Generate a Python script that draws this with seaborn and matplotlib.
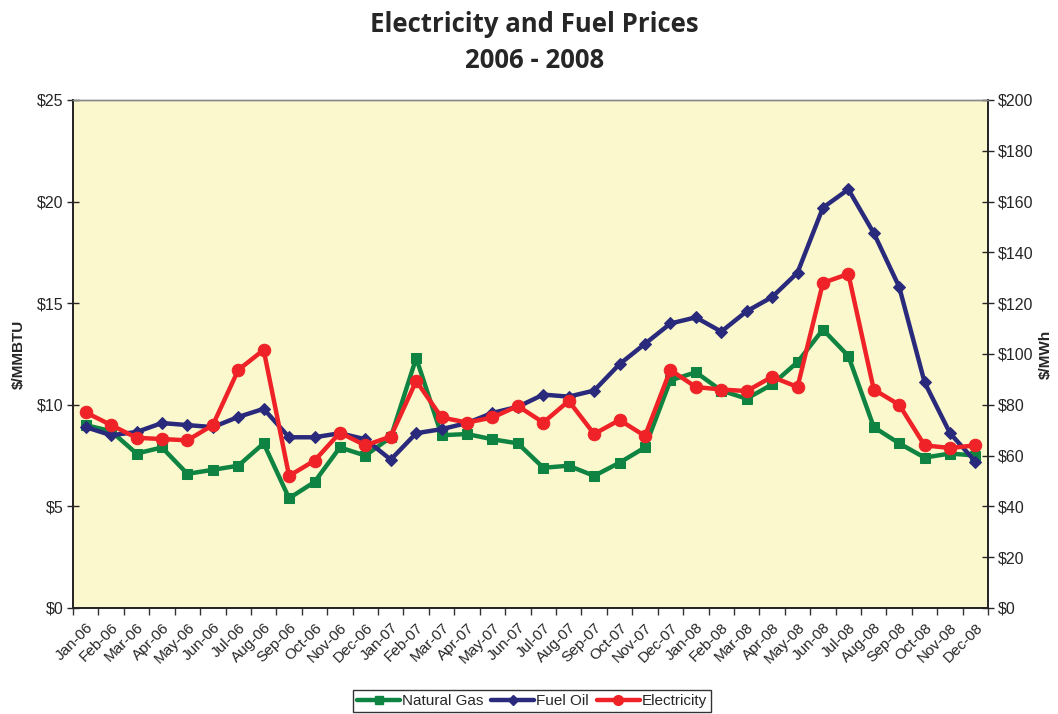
import pandas as pd
import seaborn as sns
import matplotlib.pyplot as plt
from matplotlib.lines import Line2D
from matplotlib.ticker import FixedLocator, FuncFormatter

months = ['Jan-06', 'Feb-06', 'Mar-06', 'Apr-06', 'May-06', 'Jun-06', 'Jul-06', 'Aug-06',
          'Sep-06', 'Oct-06', 'Nov-06', 'Dec-06', 'Jan-07', 'Feb-07', 'Mar-07', 'Apr-07',
          'May-07', 'Jun-07', 'Jul-07', 'Aug-07', 'Sep-07', 'Oct-07', 'Nov-07', 'Dec-07',
          'Jan-08', 'Feb-08', 'Mar-08', 'Apr-08', 'May-08', 'Jun-08', 'Jul-08', 'Aug-08',
          'Sep-08', 'Oct-08', 'Nov-08', 'Dec-08']

# $/MMBTU
natural_gas = [9.0, 8.7, 7.6, 7.9, 6.6, 6.8, 7.0, 8.1, 5.4, 6.2, 7.9, 7.5,
               8.4, 12.3, 8.5, 8.56, 8.3, 8.1, 6.9, 7.0, 6.5, 7.15, 7.9, 11.2,
               11.6, 10.7, 10.3, 11.0, 12.1, 13.7, 12.4, 8.9, 8.1, 7.4, 7.6, 7.5]
fuel_oil = [8.9, 8.5, 8.66, 9.1, 9.0, 8.9, 9.4, 9.8, 8.4, 8.4, 8.6, 8.3,
            7.3, 8.6, 8.8, 9.1, 9.6, 9.9, 10.5, 10.4, 10.7, 12.0, 13.0, 14.0,
            14.3, 13.6, 14.6, 15.3, 16.5, 19.7, 20.6, 18.45, 15.8, 11.1, 8.6, 7.2]
# $/MWh
electricity = [77, 72, 67, 66.5, 66, 72, 93.7, 101.6, 52, 58, 69, 64,
               67.5, 89.4, 75, 73, 75, 79.5, 73, 81.5, 68.5, 74, 67.7, 93.7,
               87, 86, 85.4, 91, 87, 128, 131.5, 86, 80, 64, 63, 64]

GREEN = '#0f8442'
NAVY = '#2a2a7c'
RED = '#ee2227'

df = pd.DataFrame({'idx': range(len(months)), 'month': months,
                   'gas': natural_gas, 'oil': fuel_oil, 'elec': electricity})

sns.set_style('white')
plt.rcParams['font.family'] = ['Liberation Sans', 'DejaVu Sans']

fig = plt.figure(figsize=(10.58, 7.14), dpi=100)
ax = fig.add_axes([0.069, 0.1485, 0.865, 0.7115])
ax.set_facecolor('#fcf8cd')
ax2 = ax.twinx()

lw = 3.2
sns.lineplot(data=df, x='idx', y='gas', ax=ax, color=GREEN, lw=lw, marker='s',
             markersize=7.5, markeredgecolor=GREEN, zorder=3)
sns.lineplot(data=df, x='idx', y='oil', ax=ax, color=NAVY, lw=lw, marker='D',
             markersize=6.5, markeredgecolor=NAVY, zorder=4)
sns.lineplot(data=df, x='idx', y='elec', ax=ax2, color=RED, lw=lw, marker='o',
             markersize=9, markeredgecolor=RED, zorder=5)

ax.set_xlim(-0.5, len(months) - 0.5)
ax.set_ylim(0, 25)
ax2.set_ylim(0, 200)

ax.set_yticks(range(0, 26, 5))
ax.yaxis.set_major_formatter(FuncFormatter(lambda v, p: f'${v:.0f}'))
ax2.set_yticks(range(0, 201, 20))
ax2.yaxis.set_major_formatter(FuncFormatter(lambda v, p: f'${v:.0f}'))

ax.set_xticks(df['idx'])
ax.set_xticklabels(months, rotation=45, ha='right', rotation_mode='anchor', fontsize=11)
ax.xaxis.set_minor_locator(FixedLocator([i - 0.5 for i in range(len(months) + 1)]))
ax.tick_params(axis='x', which='major', length=0, pad=9)
ax.tick_params(axis='x', which='minor', length=5, direction='out', width=1, color='#333333', bottom=True)
ax.tick_params(axis='y', length=8, direction='inout', width=1, labelsize=11.5, left=True, pad=3)
ax2.tick_params(axis='y', length=8, direction='inout', width=1, labelsize=11.5, right=True, pad=3)

ax.set_xlabel('')
ax.set_ylabel('$/MMBTU', fontsize=11, fontweight='bold', labelpad=8)
ax2.set_ylabel('$/MWh', fontsize=11, fontweight='bold', rotation=90, labelpad=4)

for a in (ax, ax2):
    for side in ('left', 'right', 'bottom'):
        a.spines[side].set_color('#222222')
        a.spines[side].set_linewidth(1.2)
    a.spines['top'].set_color('#888888')
    a.spines['top'].set_linewidth(1.0)

fig.suptitle('Electricity and Fuel Prices\n2006 - 2008', x=0.505, y=0.985,
             fontsize=18.5, fontweight='bold', family=['Open Sans', 'DejaVu Sans'],
             linespacing=1.45)

handles = [
    Line2D([], [], color=GREEN, lw=lw, marker='s', markersize=6),
    Line2D([], [], color=NAVY, lw=lw, marker='D', markersize=5.5),
    Line2D([], [], color=RED, lw=lw, marker='o', markersize=7),
]
leg = fig.legend(handles, ['Natural Gas', 'Fuel Oil', 'Electricity'], loc='lower center',
                 bbox_to_anchor=(0.503, 0.0), ncol=3, frameon=True, fancybox=False,
                 fontsize=11, handlelength=2.8, handletextpad=0.15, columnspacing=0.5,
                 borderpad=0.25, borderaxespad=0.15)
leg.get_frame().set_edgecolor('black')
leg.get_frame().set_linewidth(1.0)

fig.savefig('out.png', dpi=100)
